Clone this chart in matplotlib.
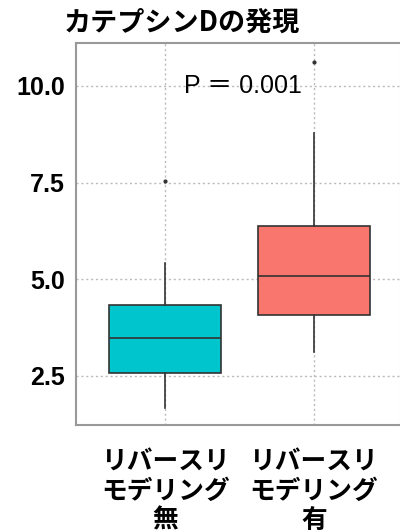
import matplotlib
matplotlib.use('Agg')
import matplotlib.pyplot as plt
import numpy as np

plt.rcParams['font.family'] = ['Noto Sans CJK JP', 'DejaVu Sans']

# box statistics
categories = ['リバースリ\nモデリング\n無', 'リバースリ\nモデリング\n有']
medians = [3.48, 5.08]
q1s = [2.58, 4.07]
q3s = [4.33, 6.37]
whis_lo = [1.67, 3.11]
whis_hi = [5.41, 8.79]
outliers = [[7.55], [10.62]]
colors = ['#00C5CD', '#F8766D']
yticks = [2.5, 5.0, 7.5, 10.0]
p_text = 'P ＝ 0.001'
title = 'カテプシンDの発現'

stats = []
for i in range(len(categories)):
    stats.append({'med': medians[i], 'q1': q1s[i], 'q3': q3s[i],
                  'whislo': whis_lo[i], 'whishi': whis_hi[i],
                  'fliers': outliers[i], 'label': categories[i]})

fig = plt.figure(figsize=(4.0, 5.3), dpi=100)
ax = fig.add_axes([0.19, 0.198, 0.81, 0.721])

line_c = '#333333'
bp = ax.bxp(stats, positions=range(len(categories)), widths=0.75,
            patch_artist=True, showcaps=False,
            boxprops=dict(edgecolor=line_c, linewidth=1.2),
            medianprops=dict(color=line_c, linewidth=1.2),
            whiskerprops=dict(color=line_c, linewidth=1.2),
            flierprops=dict(marker='o', markersize=2, markerfacecolor=line_c,
                            markeredgecolor=line_c))
for patch, c in zip(bp['boxes'], colors):
    patch.set_facecolor(c)

ax.set_xlim(-0.6, 1.58)
ax.set_ylim(1.23, 11.11)
ax.set_yticks(yticks)
ax.set_yticklabels(['%.1f' % t for t in yticks], fontsize=18, fontweight='bold',
                   family=['Liberation Sans'])
ax.set_xticks(range(len(categories)))
ax.set_xticklabels(categories, fontsize=18.5, fontweight='bold', linespacing=1.1)
ax.tick_params(length=0)
ax.tick_params(axis='y', pad=8)
ax.tick_params(axis='x', pad=17)
ax.grid(True, linestyle=(0, (1.5, 2)), color='#bbbbbb', linewidth=1)
ax.set_axisbelow(True)
for s in ['left', 'bottom', 'top']:
    ax.spines[s].set_color('#999999')
    ax.spines[s].set_linewidth(1.5)
ax.spines['right'].set_color('#dddddd')

ax.text(0.52, 10.0, p_text, ha='center', va='center', fontsize=18,
        family=['Liberation Sans', 'Noto Sans CJK JP'])
fig.text(0.455, 0.958, title, ha='center', va='center', fontsize=19.5,
         fontweight='bold')

fig.savefig('out.png', dpi=100)
